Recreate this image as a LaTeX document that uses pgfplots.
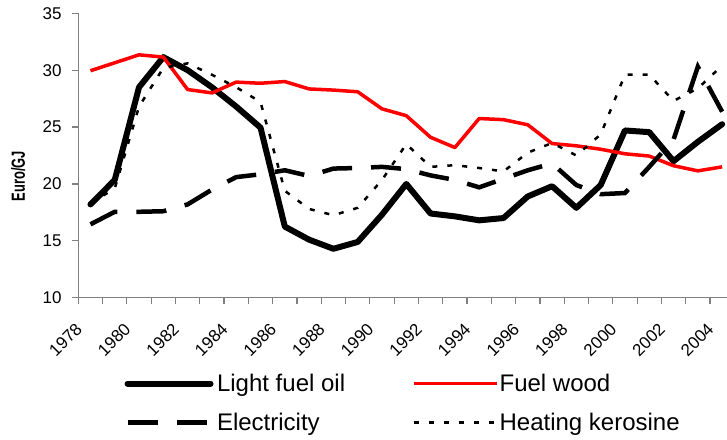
\documentclass[border=0pt]{standalone}
\usepackage{pgfplots}
\pgfplotsset{compat=1.18}
\usepackage{pgfplotstable}
\usepackage{fontspec}
\setmainfont{Liberation Sans}
\usetikzlibrary{calc}

\pgfplotstableread{
year lfo wood elec kero
1978 18.20 29.95 16.45 18.30
1979 20.35 30.65 17.55 19.60
1980 28.50 31.35 17.55 26.80
1981 31.15 31.15 17.60 30.20
1982 30.00 28.30 18.20 30.60
1983 28.50 28.00 19.50 29.60
1984 26.80 28.95 20.60 28.50
1985 24.95 28.85 20.85 27.20
1986 16.25 29.00 21.20 19.40
1987 15.10 28.35 20.70 17.80
1988 14.30 28.25 21.35 17.25
1989 14.90 28.10 21.40 17.90
1990 17.30 26.60 21.50 20.35
1991 20.00 26.00 21.30 23.50
1992 17.40 24.10 20.75 21.50
1993 17.15 23.20 20.35 21.65
1994 16.80 25.75 19.70 21.40
1995 17.00 25.65 20.45 21.10
1996 18.90 25.20 21.20 22.75
1997 19.80 23.55 21.80 23.60
1998 17.90 23.35 19.90 22.50
1999 19.90 23.05 19.10 24.35
2000 24.70 22.65 19.20 29.60
2001 24.55 22.45 21.50 29.60
2002 22.00 21.60 23.90 27.30
2003 23.70 21.15 30.30 28.40
2004 25.25 21.50 26.35 30.40
}\data

\begin{document}
\begin{tikzpicture}
\begin{axis}[
  name=ax,
  scale only axis,
  clip=false,
  width=648.7pt, height=284.4pt,
  xmin=1977.5, xmax=2004.2,
  ymin=10, ymax=35,
  axis x line*=bottom, axis y line*=left,
  axis line style={draw=black!50, line width=1.2pt},
  every tick/.style={draw=black!50, line width=1.2pt},
  tick align=outside,
  major tick length=6pt,
  ytick={10,15,20,25,30,35},
  yticklabels={},
  xtick={1977.5,1978.5,1979.5,1980.5,1981.5,1982.5,1983.5,1984.5,1985.5,1986.5,1987.5,1988.5,1989.5,1990.5,1991.5,1992.5,1993.5,1994.5,1995.5,1996.5,1997.5,1998.5,1999.5,2000.5,2001.5,2002.5,2003.5},
  xticklabels={},
  ylabel={\scalebox{0.68}[1]{\fontsize{19}{19}\selectfont\bfseries Euro/GJ}},
  ylabel style={at={(axis description cs:-0.0925,0.428)}, anchor=center},
  legend columns=2,
  legend cell align=left,
  legend style={draw=none, fill=none, at={(axis description cs:0.071,-0.261)}, anchor=north west,
    font=\fontsize{24}{24}\selectfont, inner sep=0pt, row sep=16pt, column sep=0pt,
    /tikz/column 1/.style={column sep=1.5pt},
    /tikz/column 2/.style={column sep=65pt},
    /tikz/column 3/.style={column sep=-1pt}},
  legend image code/.code={\draw[#1] (0pt,0pt) -- (83pt,0pt);},
]
\addplot[black, line width=6pt, line join=round, line cap=round] table[x=year, y=lfo] {\data};
\addlegendentry{Light fuel oil}
\addplot[red, line width=3.5pt, line join=round] table[x=year, y=wood] {\data};
\addlegendentry{Fuel wood}
\addplot[black, line width=4.5pt, dash pattern=on 30pt off 19pt] table[x=year, y=elec] {\data};
\addlegendentry{Electricity}
\addplot[black, line width=2.5pt, dash pattern=on 5pt off 10pt] table[x=year, y=kero] {\data};
\addlegendentry{Heating kerosine}
\pgfplotsinvokeforeach{10,15,20,25,30,35}{
  \node[anchor=east, inner sep=0pt, font=\fontsize{17}{17}\selectfont] at ([xshift=-16.6pt]axis cs:1977.5,#1) {#1};
}
\pgfplotsinvokeforeach{1978,1980,1982,1984,1986,1988,1990,1992,1994,1996,1998,2000,2002,2004}{
  \node[rotate=45, anchor=east, inner sep=0pt, font=\fontsize{17}{17}\selectfont] at ([xshift=-11.5pt,yshift=-28.5pt]axis cs:#1,10) {#1};
}
\end{axis}
\pgfresetboundingbox
\path ($(ax.south west)+(-78.3pt,-142.3pt)$) rectangle ($(ax.north east)+(0pt,13.3pt)$);
\end{tikzpicture}
\end{document}
